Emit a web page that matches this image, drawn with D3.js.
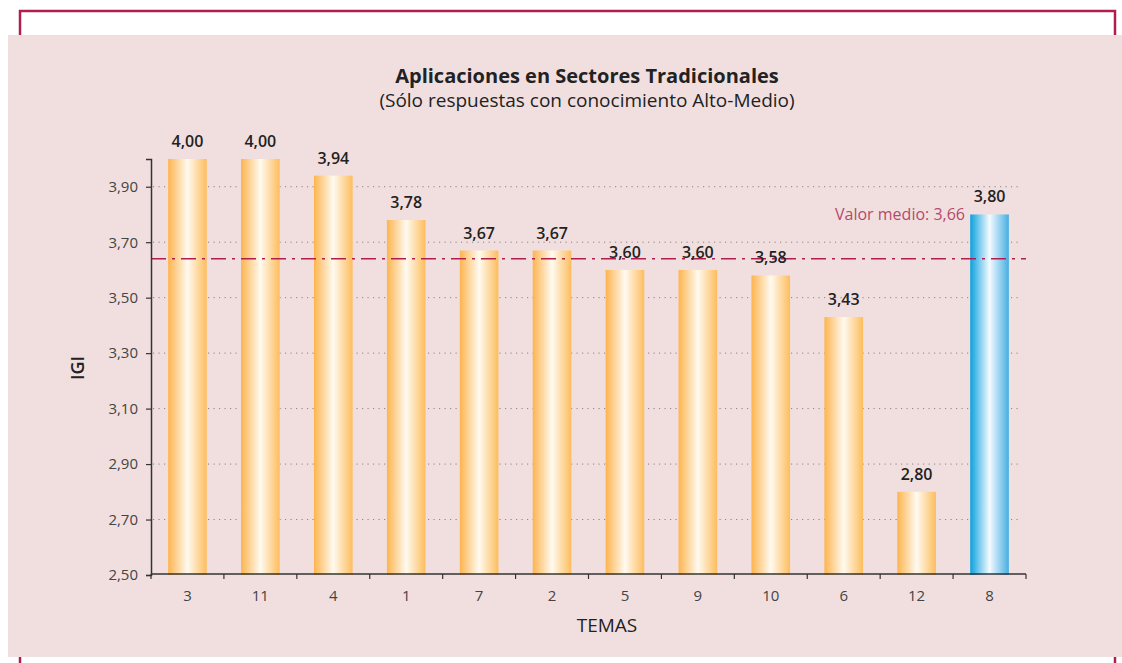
<!DOCTYPE html>
<html>
<head>
<meta charset="utf-8">
<script src="https://cdn.jsdelivr.net/npm/d3@7"></script>
<style>
  body { margin: 0; background: #fff; }
  svg text { font-family: "Open Sans", Lato, sans-serif; }
</style>
</head>
<body>
<svg id="chart"></svg>
<script>
// chart data
let temas = ["3", "11", "4", "1", "7", "2", "5", "9", "10", "6", "12", "8"];
let igi = [4.00, 4.00, 3.94, 3.78, 3.67, 3.67, 3.60, 3.60, 3.58, 3.43, 2.80, 3.80];
let highlighted = ["8"];
let yTicks = [2.50, 2.70, 2.90, 3.10, 3.30, 3.50, 3.70, 3.90];
let meanLineValue = 3.64;
let meanLabel = "Valor medio: 3,66";

let width = 1122, height = 663;
let margin = { top: 159, right: 96, bottom: 89, left: 151 };
let crimson = "#b01e50";
let font = "'Open Sans', sans-serif";

let fmt = v => d3.format(".2f")(v).replace(".", ",");

let svg = d3.select("#chart").attr("width", width).attr("height", height);

// frame + pink panel
svg.append("rect")
    .attr("x", 20).attr("y", 11).attr("width", 1095).attr("height", 700)
    .style("fill", "#fff").style("stroke", crimson).style("stroke-width", 2.5);
svg.append("rect")
    .attr("x", 8).attr("y", 35).attr("width", 1114).attr("height", 622)
    .style("fill", "#f1dfe0");

let defs = svg.append("defs");
let addGradient = (id, stops) => {
    let g = defs.append("linearGradient").attr("id", id)
        .attr("x1", "0%").attr("x2", "100%").attr("y1", "0%").attr("y2", "0%");
    stops.forEach(s => g.append("stop").attr("offset", s[0]).attr("stop-color", s[1]));
};
addGradient("orange", [["0%", "#fdb44e"], ["50%", "#fffaf0"], ["100%", "#fdbd5d"]]);
addGradient("blue", [["0%", "#0ba1de"], ["50%", "#f4faff"], ["100%", "#46aee2"]]);

let x = d3.scaleBand()
    .domain(temas)
    .range([margin.left, width - margin.right])
    .paddingInner(0.47)
    .paddingOuter(0.235);

let y = d3.scaleLinear()
    .domain([2.5, 4.0])
    .range([height - margin.bottom + 1, margin.top]);

let step = x.step();
let x0 = margin.left, x1 = width - margin.right;

// gridlines
svg.append("g").selectAll("line")
    .data(yTicks.slice(1))
    .enter().append("line")
    .attr("x1", x0 + 2).attr("x2", x1 - 4)
    .attr("y1", d => y(d)).attr("y2", d => y(d))
    .style("stroke", "#8a8282").style("stroke-width", 1)
    .style("stroke-dasharray", "1.2,4.3");

// bars
let data = temas.map((t, i) => ({ tema: t, value: igi[i] }));
svg.append("g").selectAll("rect")
    .data(data)
    .enter().append("rect")
    .attr("x", d => x(d.tema))
    .attr("width", x.bandwidth())
    .attr("y", d => y(d.value))
    .attr("height", d => y(2.5) - y(d.value))
    .style("fill", d => highlighted.includes(d.tema) ? "url(#blue)" : "url(#orange)");

// mean line
svg.append("line")
    .attr("x1", x0).attr("x2", x1)
    .attr("y1", y(meanLineValue)).attr("y2", y(meanLineValue))
    .style("stroke", crimson).style("stroke-width", 1.5)
    .style("stroke-dasharray", "15,6,3,6");

svg.append("text")
    .attr("x", 965).attr("y", 220)
    .attr("text-anchor", "end")
    .style("font-size", "16px").style("fill", "#b44a6c")
    .text(meanLabel);

// value labels
svg.append("g").selectAll("text")
    .data(data)
    .enter().append("text")
    .attr("x", d => x(d.tema) + x.bandwidth() / 2)
    .attr("y", d => y(d.value) - 12)
    .attr("text-anchor", "middle")
    .style("font-size", "16px").style("font-weight", 600).style("fill", "#222")
    .text(d => fmt(d.value));

// y axis
let yAxis = svg.append("g")
    .attr("transform", `translate(${x0},0)`)
    .call(d3.axisLeft(y).tickValues(yTicks).tickSize(5).tickPadding(8).tickFormat(fmt));
yAxis.select(".domain").style("stroke", "#333").style("stroke-width", 1.5);
yAxis.selectAll(".tick line").style("stroke", "#333").style("stroke-width", 1.2);
yAxis.selectAll(".tick text")
    .style("font-family", font).style("font-size", "15px").style("fill", "#444");

// x axis
let xBase = y(2.5) - 1;
let xAxis = svg.append("g")
    .attr("transform", `translate(0,${xBase})`)
    .call(d3.axisBottom(x).tickSize(0).tickPadding(16));
xAxis.select(".domain").attr("d", `M${x0},0H${x1}`).style("stroke", "#333").style("stroke-width", 1.5);
xAxis.selectAll(".tick text")
    .style("font-family", font).style("font-size", "15px").style("fill", "#444");
xAxis.selectAll(".bound")
    .data(d3.range(temas.length + 1))
    .enter().append("line")
    .attr("x1", i => x0 + i * step).attr("x2", i => x0 + i * step)
    .attr("y1", 0).attr("y2", 5)
    .style("stroke", "#333").style("stroke-width", 1.2);

// titles
svg.append("text")
    .attr("x", 587).attr("y", 83).attr("text-anchor", "middle")
    .style("font-size", "20px").style("font-weight", 700).style("fill", "#222")
    .text("Aplicaciones en Sectores Tradicionales");
svg.append("text")
    .attr("x", 587).attr("y", 107).attr("text-anchor", "middle")
    .style("font-size", "19px").style("fill", "#222")
    .text("(Sólo respuestas con conocimiento Alto-Medio)");

svg.append("text")
    .attr("x", 607).attr("y", 632).attr("text-anchor", "middle")
    .style("font-size", "19px").style("fill", "#222")
    .text("TEMAS");
svg.append("text")
    .attr("transform", "translate(84,368) rotate(-90)")
    .attr("text-anchor", "middle")
    .style("font-size", "18px").style("font-weight", 600).style("fill", "#222")
    .text("IGI");
</script>
</body>
</html>
